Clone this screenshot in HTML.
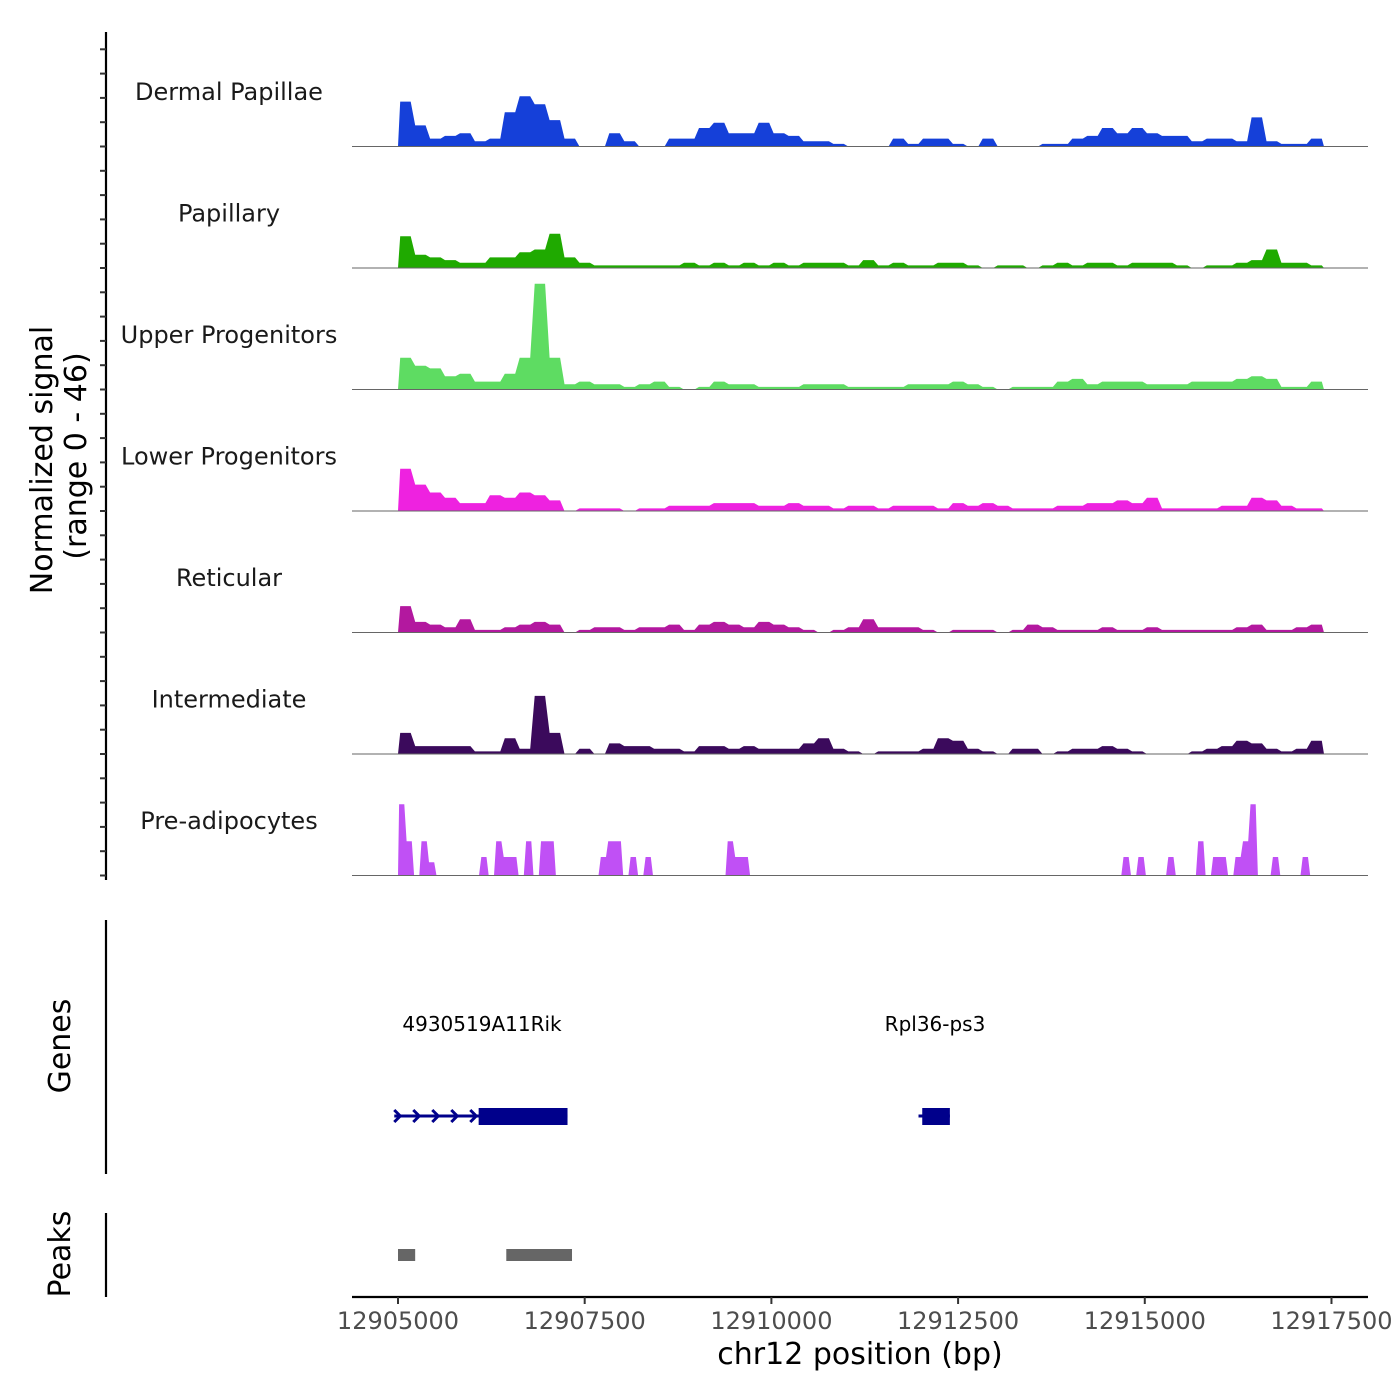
<!DOCTYPE html>
<html><head><meta charset="utf-8"><style>
html,body{margin:0;padding:0;background:#fff;}
svg{display:block;font-family:"DejaVu Sans","Liberation Sans",sans-serif;}
</style></head><body>
<svg id="chart" width="1400" height="1400" viewBox="0 0 1400 1400" xmlns="http://www.w3.org/2000/svg">
<g id="tracks"></g>
<g id="leftaxis">
<line x1="106" y1="32" x2="106" y2="880" stroke="#000" stroke-width="2.2"/>
</g>
<text transform="translate(52,460) rotate(-90)" text-anchor="middle" font-size="30" fill="#000">Normalized signal</text>
<text transform="translate(86,456) rotate(-90)" text-anchor="middle" font-size="30" fill="#000">(range 0 - 46)</text>
<g>
<line x1="106" y1="920" x2="106" y2="1174" stroke="#000" stroke-width="2.2"/>
<text transform="translate(70,1046) rotate(-90)" text-anchor="middle" font-size="30">Genes</text>
<g id="genes"></g>
</g>
<g>
<line x1="106" y1="1213" x2="106" y2="1297" stroke="#000" stroke-width="2.2"/>
<text transform="translate(70,1254) rotate(-90)" text-anchor="middle" font-size="30">Peaks</text>
<g id="peaks"></g>
</g>
<g id="xaxis">
<line x1="352" y1="1297" x2="1368" y2="1297" stroke="#000" stroke-width="2.2"/>
</g>
<text x="860" y="1364" text-anchor="middle" font-size="30">chr12 position (bp)</text>
</svg>
<script>
// ---- data ----
const regionStart = 12904384, regionEnd = 12917989;
const binStart = 12905000;
const trackNames = ["Dermal Papillae","Papillary","Upper Progenitors","Lower Progenitors","Reticular","Intermediate","Pre-adipocytes"];
const trackColors = ["#1540d9","#1faa00","#5edc62","#ee22e0","#b3189f","#3b0a5c","#c050f5"];
const binSizes = [200,200,200,200,200,200,100];
const dermalPapillae = [17,8,3,4,5,2,3,13,19,16,10,3,0,0,5,2,0,0,3,3,7,9,5,5,9,5,4,2,2,1,0,0,0,3,1,3,3,1,0,3,0,0,0,1,1,3,4,7,5,7,5,4,4,2,3,3,2,11,2,1,1,3];
const papillary = [12,5,4,3,2,2,4,4,6,7,13,4,2,1,1,1,1,1,1,2,1,2,1,2,1,2,1,2,2,2,1,3,1,2,1,1,2,2,1,0,1,1,0,1,2,1,2,2,1,2,2,2,1,0,1,1,2,3,7,2,2,1];
const upperProgenitors = [12,9,8,5,6,3,3,6,12,40,12,2,3,2,2,1,2,3,1,0,1,3,2,2,1,1,1,2,2,2,1,1,1,1,2,2,2,3,2,1,0,1,1,1,3,4,2,3,3,3,2,2,2,3,3,3,4,5,4,1,1,3];
const lowerProgenitors = [16,10,7,5,3,3,6,5,7,6,4,0,1,1,1,0,1,1,2,2,2,3,3,3,2,2,3,2,2,1,2,2,1,2,2,2,1,3,2,3,2,1,1,1,2,2,3,3,4,3,5,1,1,1,1,2,2,5,4,2,1,1];
const reticular = [10,4,3,2,5,1,1,2,3,4,3,0,1,2,2,1,2,2,3,1,3,4,3,2,4,3,2,1,0,1,2,5,2,2,2,1,0,1,1,1,0,1,3,2,1,1,1,2,1,1,2,1,1,1,1,1,2,3,1,1,2,3];
const intermediate = [8,3,3,3,3,1,1,6,2,22,8,0,2,0,4,3,3,2,2,1,3,3,2,3,2,2,2,4,6,2,1,0,1,1,1,2,6,5,2,1,0,2,2,0,1,2,2,3,2,1,0,0,0,1,2,3,5,4,2,1,2,5];
const preAdipocytes = [27,13,0,13,5,0,0,0,0,0,0,7,0,13,7,7,0,13,0,13,13,0,0,0,0,0,0,7,13,13,0,7,0,7,0,0,0,0,0,0,0,0,0,0,13,7,7,0,0,0,0,0,0,0,0,0,0,0,0,0,0,0,0,0,0,0,0,0,0,0,0,0,0,0,0,0,0,0,0,0,0,0,0,0,0,0,0,0,0,0,0,0,0,0,0,0,0,7,0,7,0,0,0,7,0,0,0,13,0,7,7,0,7,13,27,0,0,7,0,0,0,7,0,0];
const trackData = [dermalPapillae,papillary,upperProgenitors,lowerProgenitors,reticular,intermediate,preAdipocytes];
const yMax = 46;
const xTicks = [12905000,12907500,12910000,12912500,12915000,12917500];
const geneNames = ["4930519A11Rik","Rpl36-ps3"];
const geneStarts = [12904950,12911970];
const geneEnds = [12907270,12912390];
const exonStarts = [12906080,12912020];
const peakStarts = [12905000,12906450];
const peakEnds = [12905230,12907330];

// ---- scales ----
const X0=352, X1=1368;
const xs = v => X0 + (v-regionStart)/(regionEnd-regionStart)*(X1-X0);
const trackTop = 25, trackH = 121.5;
const ys = (v,i) => trackTop + trackH*(i+1) - v/yMax*trackH;
const NS="http://www.w3.org/2000/svg";
function mk(tag,attrs,parent){const e=document.createElementNS(NS,tag);for(const k in attrs)e.setAttribute(k,attrs[k]);parent.appendChild(e);return e;}

const tracks=document.getElementById('tracks');
trackData.forEach((arr,i)=>{
  const base = ys(0,i);
  const g=mk('g',{},tracks);
  
  
  const bs=binSizes[i];
  let pts=[[xs(binStart),base]];
  arr.forEach((v,j)=>{ pts.push([xs(binStart+j*bs+bs*0.15),ys(v,i)]); pts.push([xs(binStart+j*bs+bs*0.85),ys(v,i)]); });
  pts.push([xs(binStart+arr.length*bs),base]);
  const p=mk('polygon',{points:pts.map(q=>q[0].toFixed(1)+','+q[1].toFixed(1)).join(' '),fill:trackColors[i]},g);
  
  
  const bl=mk('line',{x1:X0,x2:X1,y1:base,y2:base,stroke:'#666','stroke-width':1},g);
  
  
  const t=mk('text',{x:229,y:trackTop+trackH*i+75,'text-anchor':'middle','font-size':24,fill:'#1a1a1a'},g);
  t.textContent=trackNames[i];
  
  
});
// left ticks
const la=document.getElementById('leftaxis');
for(let y=ys(0,6); y>=40; y-=trackH/5){
  const tk=mk('line',{x1:100,x2:106,y1:y.toFixed(1),y2:y.toFixed(1),stroke:'#333','stroke-width':2},la);
  
  
}
// x axis
const xa=document.getElementById('xaxis');
xTicks.forEach(v=>{
  const x=xs(v);
  const tk=mk('line',{x1:x,x2:x,y1:1297,y2:1304,stroke:'#333','stroke-width':2},xa);
  
  
  const t=mk('text',{x:x,y:1329,'text-anchor':'middle','font-size':24,fill:'#4d4d4d'},xa);
  t.textContent=String(v);
  
  
});
// genes
const gg=document.getElementById('genes');
geneNames.forEach((n,i)=>{
  const g=mk('g',{},gg);
  
  
  const a=xs(geneStarts[i]), b=xs(geneEnds[i]), e=xs(exonStarts[i]);
  mk('line',{x1:a,x2:b,y1:1116,y2:1116,stroke:'#00008b','stroke-width':3},g);
  for(let x=a+3; x<e-2; x+=19){ mk('polyline',{points:`${x-3},1110 ${x+3},1116 ${x-3},1122`,fill:'none',stroke:'#00008b','stroke-width':3},g); }
  mk('rect',{x:e,y:1108,width:b-e,height:17,fill:'#00008b'},g);
  const t=mk('text',{x:i?935:482,y:1031,'text-anchor':'middle','font-size':20,fill:'#000'},g);
  t.textContent=n;
  
  
});
// peaks
const pg=document.getElementById('peaks');
peakStarts.forEach((s,i)=>{
  const r=mk('rect',{x:xs(s),y:1249,width:xs(peakEnds[i])-xs(s),height:12,fill:'#666'},pg);
  
  
});
</script>
</body></html>
